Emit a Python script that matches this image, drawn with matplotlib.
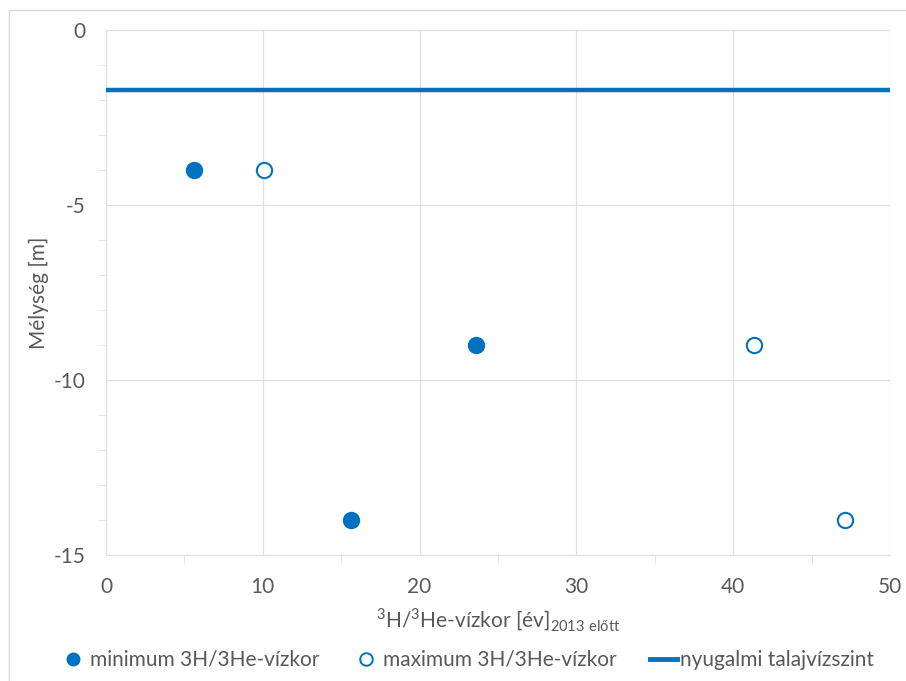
import matplotlib
matplotlib.use("Agg")
import matplotlib.pyplot as plt
from matplotlib.patches import Rectangle
from matplotlib.lines import Line2D
from matplotlib.ticker import MultipleLocator

plt.rcParams['font.family'] = ['Lato', 'DejaVu Sans']
plt.rcParams['mathtext.fontset'] = 'custom'
plt.rcParams['mathtext.rm'] = 'Lato'
plt.rcParams['axes.unicode_minus'] = False

# Ages (years before 2013) and sampling depths (m)
min_age = [5.6, 15.6, 23.6]
min_depth = [-4, -14, -9]
max_age = [10.1, 41.3, 47.1]
max_depth = [-4, -9, -14]
water_table = -1.7

blue = '#0070C0'
text_gray = '#595959'
grid_gray = '#E0E0E0'

W, H = 906, 681
fig = plt.figure(figsize=(W / 100, H / 100), dpi=100)
ax = fig.add_axes([106 / W, 1 - 555 / H, (890 - 106) / W, (555 - 30) / H])

# outer chart frame
fig.patches.append(Rectangle((9 / W, -0.01), 1.0, 1 - 10 / H + 0.01,
                             transform=fig.transFigure, fill=False,
                             edgecolor='#D9D9D9', linewidth=1.0))

ax.axhline(water_table, color=blue, linewidth=3.2, zorder=3)
ax.plot(min_age, min_depth, 'o', color=blue, markersize=11.5, zorder=4)
ax.plot(max_age, max_depth, 'o', markerfacecolor='white', markeredgecolor=blue,
        markeredgewidth=1.5, markersize=11, zorder=4)

ax.set_xlim(0, 50)
ax.set_ylim(-15, 0)
ax.xaxis.set_major_locator(MultipleLocator(10))
ax.xaxis.set_minor_locator(MultipleLocator(5))
ax.yaxis.set_major_locator(MultipleLocator(5))
ax.yaxis.set_minor_locator(MultipleLocator(1))
ax.grid(True, which='major', color=grid_gray, linewidth=0.9)
ax.set_axisbelow(True)

for side in ['top', 'right']:
    ax.spines[side].set_visible(False)
ax.spines['left'].set_color(grid_gray)
ax.spines['bottom'].set_color(grid_gray)
ax.tick_params(which='both', colors=grid_gray, labelcolor=text_gray, labelsize=15)
ax.tick_params(which='major', length=0)
ax.tick_params(which='minor', length=6)
ax.tick_params(axis='y', which='major', pad=15)
ax.tick_params(axis='x', which='major', pad=16)

ax.set_ylabel('Mélység [m]', color=text_gray, fontsize=15)
ax.set_xlabel('$^{3}$H/$^{3}$He-vízkor [év]$_{\\mathregular{2013\\ előtt}}$',
              color=text_gray, fontsize=15)
ax.yaxis.set_label_coords(-0.073, 0.5)
ax.xaxis.set_label_coords(0.5, -0.098)

handles = [
    Line2D([], [], linestyle='none', marker='o', color=blue, markersize=9),
    Line2D([], [], linestyle='none', marker='o', markerfacecolor='white',
           markeredgecolor=blue, markeredgewidth=1.4, markersize=9),
    Line2D([], [], color=blue, linewidth=3.5),
]
labels = ['minimum 3H/3He-vízkor', 'maximum 3H/3He-vízkor', 'nyugalmi talajvízszint']
leg = fig.legend(handles, labels, loc='center', bbox_to_anchor=(467 / W, 1 - 660 / H),
                 ncol=3, frameon=False, fontsize=15, handlelength=1.3,
                 handletextpad=0.15, columnspacing=1.6, labelcolor=text_gray)

fig.savefig('out.png', dpi=100)
